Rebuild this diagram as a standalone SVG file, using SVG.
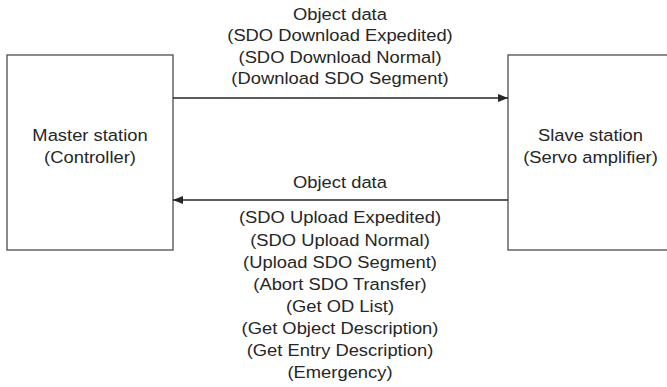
<svg xmlns="http://www.w3.org/2000/svg" width="667" height="387" viewBox="0 0 667 387">
<style>
text{font-family:"Liberation Sans",Arial,sans-serif;font-size:17px;fill:#262626;text-anchor:middle}
.box{fill:#fff;stroke:#4d4d4d;stroke-width:1.3}
.conn{stroke:#262626;stroke-width:1.3;fill:none}
</style>
<defs>
<marker id="ah" viewBox="0 0 10 8" refX="10" refY="4" markerWidth="10" markerHeight="8" markerUnits="userSpaceOnUse" orient="auto">
<path d="M0,0 L10,4 L0,8 Z" fill="#262626"/>
</marker>
</defs>
<rect width="667" height="387" fill="#fff"/>
<g id="master">
<rect class="box" x="7" y="55" width="166" height="195"/>
<g transform="translate(90 0) scale(1.08 1)">
<text x="0" y="141">Master station</text>
<text x="0" y="163">(Controller)</text>
</g>
</g>
<g id="slave">
<rect class="box" x="508" y="55" width="166" height="195"/>
<g transform="translate(590.5 0) scale(1.08 1)">
<text x="0" y="141">Slave station</text>
<text x="0" y="163">(Servo amplifier)</text>
</g>
</g>
<g id="connectors">
<line class="conn" x1="173" y1="98" x2="508" y2="98" marker-end="url(#ah)"/>
<line class="conn" x1="508" y1="200" x2="173" y2="200" marker-end="url(#ah)"/>
</g>
<g id="labels-top" transform="translate(340 0) scale(1.08 1)">
<text x="0" y="20.5">Object data</text>
<text x="0" y="41.5">(SDO Download Expedited)</text>
<text x="0" y="62.7">(SDO Download Normal)</text>
<text x="0" y="84">(Download SDO Segment)</text>
</g>
<g id="labels-bottom" transform="translate(340 0) scale(1.08 1)">
<text x="0" y="188">Object data</text>
<text x="0" y="223.5">(SDO Upload Expedited)</text>
<text x="0" y="245.6">(SDO Upload Normal)</text>
<text x="0" y="267.7">(Upload SDO Segment)</text>
<text x="0" y="289.8">(Abort SDO Transfer)</text>
<text x="0" y="311.9">(Get OD List)</text>
<text x="0" y="334">(Get Object Description)</text>
<text x="0" y="356.1">(Get Entry Description)</text>
<text x="0" y="378.2">(Emergency)</text>
</g>
</svg>
